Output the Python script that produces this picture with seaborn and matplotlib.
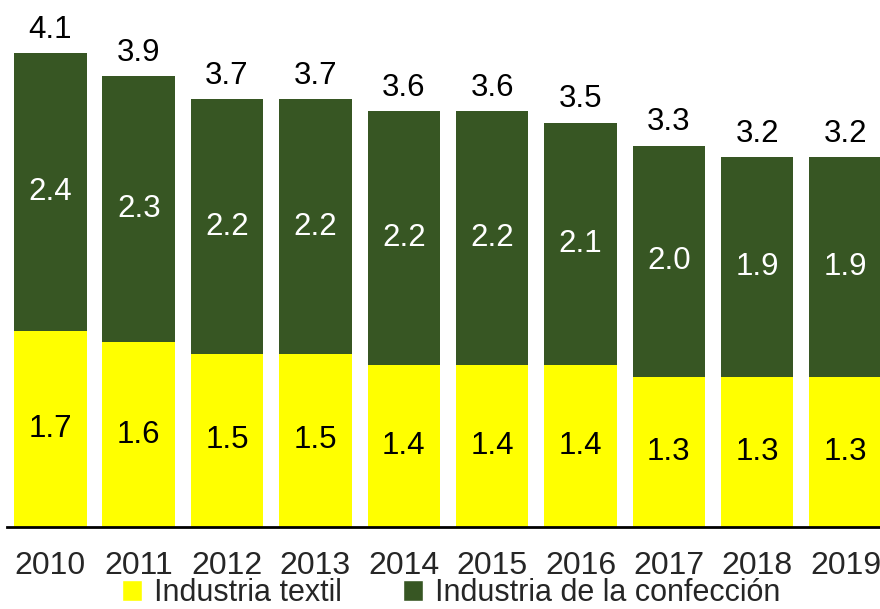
import numpy as np
import pandas as pd
import matplotlib
matplotlib.use("Agg")
import matplotlib.pyplot as plt
from matplotlib.patches import Patch
import seaborn as sns

years = ["2010", "2011", "2012", "2013", "2014", "2015", "2016", "2017", "2018", "2019"]
textil = [1.7, 1.6, 1.5, 1.5, 1.4, 1.4, 1.4, 1.3, 1.3, 1.3]
confeccion = [2.4, 2.3, 2.2, 2.2, 2.2, 2.2, 2.1, 2.0, 1.9, 1.9]
totales = [4.1, 3.9, 3.7, 3.7, 3.6, 3.6, 3.5, 3.3, 3.2, 3.2]

YELLOW = "#FFFF00"
GREEN = "#375623"

sns.set_theme(style="white")
plt.rcParams["font.family"] = ["Liberation Sans", "DejaVu Sans"]

df = pd.DataFrame({"year": years, "textil": textil,
                   "confeccion": confeccion, "total": totales})

fig = plt.figure(figsize=(8.8, 6.09), dpi=100)
ax = fig.add_axes([0.008, 0.1346, 0.992, 0.8654])

# total bars in green, textil drawn on top in yellow -> stacked look
sns.barplot(data=df, x="year", y="total", color=GREEN, width=0.82,
            saturation=1, ax=ax, linewidth=0)
sns.barplot(data=df, x="year", y="textil", color=YELLOW, width=0.82,
            saturation=1, ax=ax, linewidth=0)

ax.bar_label(ax.containers[0], labels=[f"{v:.1f}" for v in totales],
             padding=6, fontsize=22.5, color="black")

for i, (t, c) in enumerate(zip(textil, confeccion)):
    ax.text(i, t / 2, f"{t:.1f}", ha="center", va="center",
            fontsize=22.5, color="black")
    ax.text(i, t + c / 2, f"{c:.1f}", ha="center", va="center",
            fontsize=22.5, color="white")

ax.set_xlim(-0.49, 9.39)
ax.set_ylim(0, 4.56)
ax.set_xlabel("")
ax.set_ylabel("")
ax.set_yticks([])
ax.tick_params(axis="x", length=0, pad=17, labelsize=23)
for s in ["top", "right", "left"]:
    ax.spines[s].set_visible(False)
ax.spines["bottom"].set_color("black")
ax.spines["bottom"].set_linewidth(2)

handles = [Patch(facecolor=YELLOW, label="Industria textil"),
           Patch(facecolor=GREEN, label="Industria de la confección")]
fig.legend(handles=handles, loc="center", bbox_to_anchor=(0.513, 0.026),
           ncol=2, frameon=False, fontsize=22, handlelength=0.65,
           handleheight=0.7, handletextpad=0.4, columnspacing=2.0,
           borderpad=0)

fig.savefig("out.png", dpi=100)
